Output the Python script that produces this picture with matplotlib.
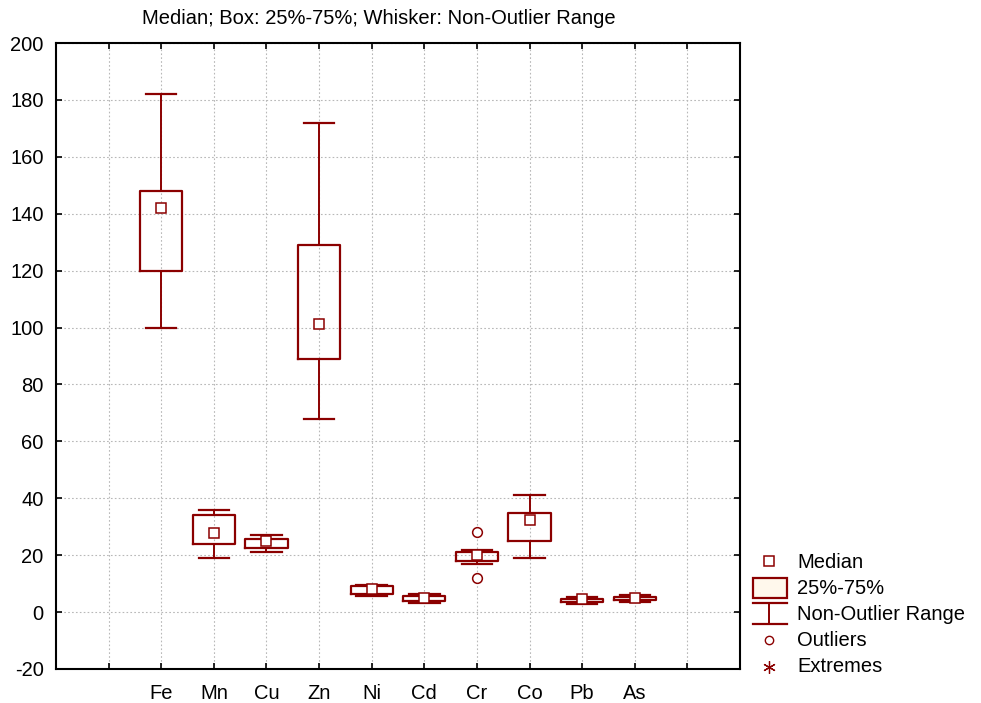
import numpy as np
import matplotlib.pyplot as plt
from matplotlib.patches import Rectangle

plt.rcParams['font.family'] = ['Liberation Sans', 'DejaVu Sans']
plt.rcParams['axes.unicode_minus'] = False

# 元素名称
elements = ['Fe', 'Mn', 'Cu', 'Zn', 'Ni', 'Cd', 'Cr', 'Co', 'Pb', 'As']
# 中位数 / 四分位 / 非离群范围
medians = [142, 27.7, 24.9, 101.4, 8.0, 4.8, 19.9, 32.2, 4.7, 4.8]
q1 = [120, 24, 22.5, 89, 6.2, 3.8, 18, 25, 3.4, 4.1]
q3 = [148, 34, 25.6, 129, 9.0, 5.5, 21, 34.8, 4.7, 5.4]
wlo = [100, 19, 21, 68, 5.6, 3.2, 17, 19, 2.9, 3.4]
whi = [182, 36, 27, 172, 9.5, 6.2, 21.8, 41, 5.4, 6.1]
outliers = [[], [], [], [], [], [], [28.2, 12], [], [], []]

red = '#8b0000'

fig = plt.figure(figsize=(9.81, 7.03), dpi=100)
ax = fig.add_axes([56 / 981, 1 - 669 / 703, (740 - 56) / 981, (669 - 43) / 703])

positions = np.arange(2, 2 + len(elements))
stats = []
for i in range(len(elements)):
    stats.append({'med': medians[i], 'q1': q1[i], 'q3': q3[i],
                  'whislo': wlo[i], 'whishi': whi[i], 'fliers': outliers[i]})

ax.bxp(stats, positions=positions, widths=0.8, capwidths=0.58,
       boxprops=dict(color=red, linewidth=1.6),
       whiskerprops=dict(color=red, linewidth=1.4),
       capprops=dict(color=red, linewidth=1.6),
       medianprops=dict(linewidth=0),
       flierprops=dict(marker='o', markerfacecolor='white', markeredgecolor=red,
                       markersize=7, markeredgewidth=1.1),
       manage_ticks=False, zorder=3)

# 中位数方块
ax.plot(positions, medians, 's', markerfacecolor='white', markeredgecolor=red,
        markersize=7, markeredgewidth=1.1, linestyle='none', zorder=4)

ax.set_xlim(0, 13)
ax.set_ylim(-20, 200)
ax.set_yticks(np.arange(-20, 201, 20))
ax.set_xticks(np.arange(1, 13))
ax.set_xticklabels([''] + elements + [''])
ax.tick_params(direction='in', length=4, width=1.2, top=True, right=True,
               labelsize=14.5, colors='black')
ax.tick_params(axis='y', pad=9)
ax.tick_params(axis='x', pad=11)
ax.grid(True, linestyle=(0, (1.5, 2)), color='#b8b8b8', linewidth=0.8)
ax.set_axisbelow(True)
for s in ax.spines.values():
    s.set_linewidth(1.5)

fig.text(379 / 981, 1 - 18 / 703, 'Median; Box: 25%-75%; Whisker: Non-Outlier Range',
         ha='center', va='center', fontsize=14.5)

# 图例
lg = fig.add_axes([0, 0, 1, 1], zorder=5)
lg.set_xlim(0, 981)
lg.set_ylim(703, 0)
lg.axis('off')
lg.plot(769, 561, 's', markerfacecolor='white', markeredgecolor=red, markersize=7,
        markeredgewidth=1.1)
lg.add_patch(Rectangle((753, 578), 34, 20, facecolor='#fff8ec', edgecolor=red, linewidth=1.6))
lg.plot([753, 787], [603, 603], color=red, linewidth=1.6)
lg.plot([753, 787], [624, 624], color=red, linewidth=1.6)
lg.plot([769, 769], [603, 624], color=red, linewidth=1.4)
lg.plot(769, 640, 'o', markerfacecolor='white', markeredgecolor=red, markersize=6,
        markeredgewidth=1.0)
lg.plot(769, 667, marker=(6, 2, 0), color=red, markersize=9, markeredgewidth=0.9)
labels = ['Median', '25%-75%', 'Non-Outlier Range', 'Outliers', 'Extremes']
ys = [563, 588, 614, 640, 667]
for t, y in zip(labels, ys):
    lg.text(797, y, t, va='center', ha='left', fontsize=14.5)

fig.savefig('out.png', dpi=100)
